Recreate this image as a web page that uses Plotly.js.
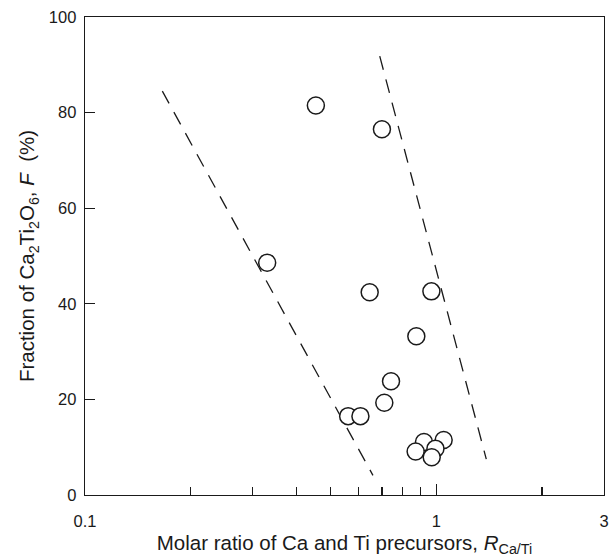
<!DOCTYPE html>
<html>
<head>
<meta charset="utf-8">
<script src="https://cdn.plot.ly/plotly-3.0.1.min.js"></script>
<style>html,body{margin:0;padding:0;background:#fff;}#chart{width:611px;height:557px;}</style>
</head>
<body>
<div id="chart"></div>
<script>
// Data points: molar ratio R_Ca/Ti vs fraction F (%)
const ratio = [0.454, 0.700, 0.330, 0.646, 0.968, 0.877, 0.743, 0.711, 0.561, 0.608, 0.922, 1.049, 0.994, 0.873, 0.970];
const fraction = [81.5, 76.5, 48.6, 42.4, 42.6, 33.2, 23.8, 19.3, 16.5, 16.5, 11.1, 11.5, 9.7, 9.1, 7.9];
// Dashed guide lines (endpoints)
const leftLineX = [0.166, 0.660];
const leftLineY = [84.5, 4.1];
const rightLineX = [0.690, 1.387];
const rightLineY = [91.8, 7.5];
// Axis ticks
const xTickVals = [0.1, 1, 3];
const xTickText = ['0.1', '1', '3'];
const xMinorVals = [0.2, 0.3, 0.4, 0.5, 0.6, 0.7, 0.8, 0.9, 2];
const yTickVals = [0, 20, 40, 60, 80, 100];

const ink = '#1a1a1a';
const traces = [
  {x: leftLineX, y: leftLineY, mode: 'lines', line: {color: ink, width: 1.3, dash: '14px,10px'}, hoverinfo: 'skip'},
  {x: rightLineX, y: rightLineY, mode: 'lines', line: {color: ink, width: 1.3, dash: '14px,10px'}, hoverinfo: 'skip'},
  {x: ratio, y: fraction, mode: 'markers', marker: {size: 17, color: '#ffffff', line: {color: ink, width: 1.5}}}
];

const layout = {
  width: 611, height: 557,
  margin: {l: 85, r: 7, t: 17, b: 62},
  paper_bgcolor: '#fff', plot_bgcolor: '#fff',
  showlegend: false,
  font: {family: 'Liberation Sans, Arial, sans-serif', size: 16, color: ink},
  xaxis: {
    type: 'log', range: [-1, Math.log10(3)],
    tickvals: xTickVals, ticktext: xTickText,
    ticks: 'inside', ticklen: 11, tickwidth: 1.3, tickcolor: ink,
    ticklabelstandoff: 11,
    minor: {tickvals: xMinorVals, ticks: 'inside', ticklen: 8, tickwidth: 1.3, tickcolor: ink, showgrid: false},
    showline: true, linecolor: ink, linewidth: 1.3, mirror: true,
    showgrid: false, zeroline: false,
    tickfont: {size: 16.5},
    automargin: false,
    title: {text: 'Molar ratio of Ca and Ti precursors, <i>R</i><sub>Ca/Ti</sub>', font: {size: 20.5}, standoff: 6}
  },
  yaxis: {
    range: [0, 100],
    tickvals: yTickVals,
    ticks: 'inside', ticklen: 10, tickwidth: 1.3, tickcolor: ink,
    ticklabelstandoff: 4,
    showline: true, linecolor: ink, linewidth: 1.3, mirror: true,
    showgrid: false, zeroline: false,
    tickfont: {size: 16.5},
    automargin: false,
    title: {text: 'Fraction of Ca<sub>2</sub>Ti<sub>2</sub>O<sub>6</sub>, <i>F</i>  (%)', font: {size: 20.5}, standoff: 8}
  }
};

Plotly.newPlot('chart', traces, layout, {staticPlot: true, displayModeBar: false});
</script>
</body>
</html>
